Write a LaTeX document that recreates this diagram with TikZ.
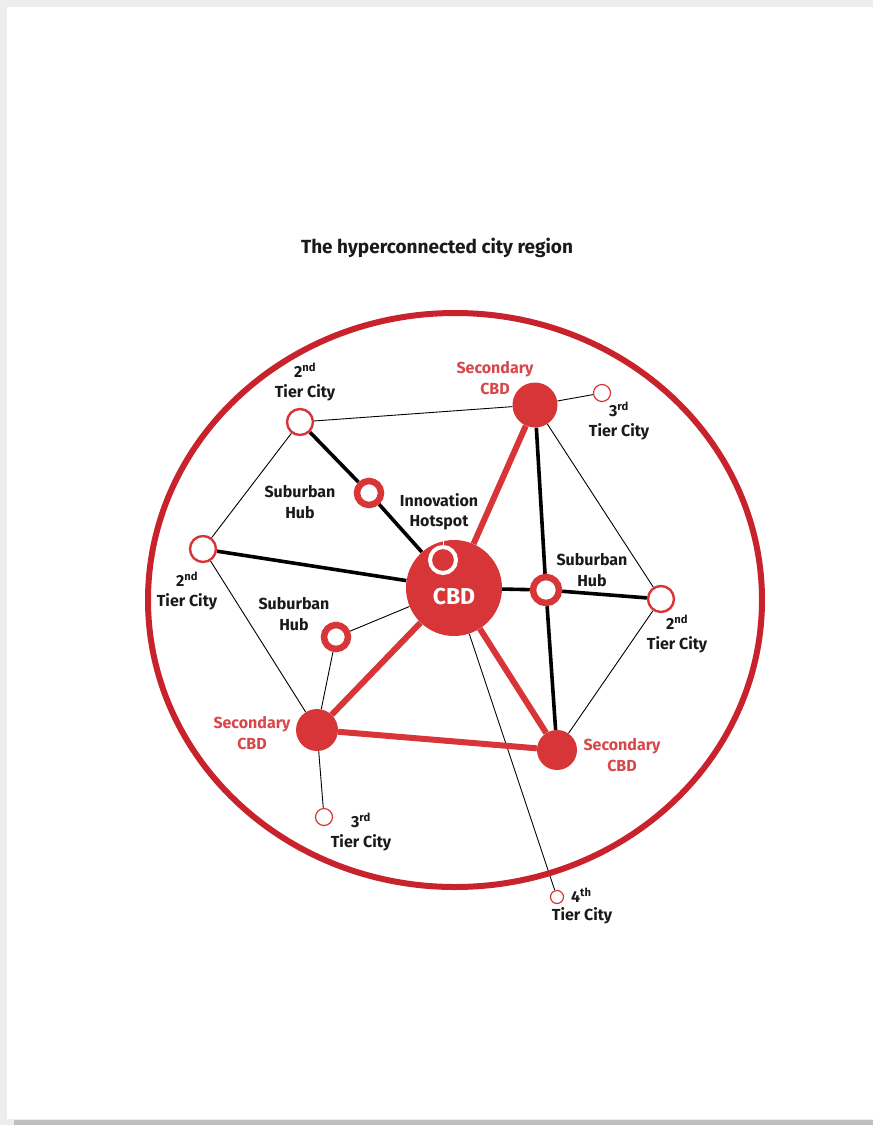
\documentclass[tikz,border=0pt]{standalone}
\usepackage{fontspec}
\setmainfont{Fira Sans}
\definecolor{cred}{HTML}{D83538}
\definecolor{ringred}{HTML}{C8232C}
\definecolor{lblred}{HTML}{D9474A}
\definecolor{txt}{HTML}{1A1A1A}
\pgfdeclarelayer{back}
\pgfdeclarelayer{edges}
\pgfsetlayers{back,edges,main}
\begin{document}
\begin{tikzpicture}[x=1pt,y=-1pt,
  every node/.style={font=\bfseries\fontsize{16}{20.5}\selectfont, text=txt, align=center, inner sep=0pt},
  tier/.style={circle,draw=cred,line width=2.4pt,fill=white,minimum size=26pt,inner sep=0pt},
  minor/.style={circle,draw=cred,line width=1.2pt,fill=white,minimum size=17pt,inner sep=0pt},
  hub/.style={circle,draw=cred,line width=6.5pt,fill=white,minimum size=24pt,inner sep=0pt},
  sec/.style={circle,fill=cred,minimum size=42pt,inner sep=0pt},
  thinl/.style={draw=black,line width=0.9pt},
  thickl/.style={draw=black,line width=3.6pt},
  redl/.style={draw=cred,line width=6pt},
  rlbl/.style={text=lblred}]
\begin{pgfonlayer}{back}
\fill[black!7] (0,0) rectangle (873,1125);
\fill[white] (7,7) rectangle (873,1119);
\fill[black!25] (14,1120) rectangle (873,1125);
\end{pgfonlayer}
\useasboundingbox (0,0) rectangle (873,1125);

\node[font=\bfseries\fontsize{19}{23}\selectfont] (title) at (437,248) {The hyperconnected city region};

\draw[ringred,line width=6pt] (455,600) ellipse [x radius=307pt, y radius=287pt];

% main nodes
\node[sec,minimum size=96pt] (cbd) at (454,588) {};
\node[font=\bfseries\fontsize{23}{25}\selectfont,text=white] (cbdl) at (454,597) {CBD};
\node[circle,draw=white,line width=4pt,fill=cred,minimum size=26pt,inner sep=0pt] (innov) at (443,560) {};
\node (innovl) at (439,512) {Innovation\\Hotspot};

\node[sec,minimum size=45pt] (sT) at (535,405) {};
\node[sec] (sL) at (317,730) {};
\node[sec,minimum size=40pt] (sR) at (557,750) {};

\node[tier] (t2a) at (300,422) {};
\node[tier] (t2b) at (203,549) {};
\node[tier] (t2c) at (661,599) {};

\node[minor] (t3a) at (602,393) {};
\node[minor] (t3b) at (324,817) {};
\node[minor,minimum size=13pt] (t4) at (557,897) {};

\node[hub] (hA) at (369,493) {};
\node[hub] (hB) at (336,637) {};
\node[hub,minimum size=26pt] (hC) at (546,590) {};

% labels
\node (t2al) at (305,382) {2\textsuperscript{nd}\\Tier City};
\node (t2bl) at (187,591) {2\textsuperscript{nd}\\Tier City};
\node (t2cl) at (677,634) {2\textsuperscript{nd}\\Tier City};
\node (t3al) at (619,421) {3\textsuperscript{rd}\\Tier City};
\node (t3bl) at (361,832) {3\textsuperscript{rd}\\Tier City};
\node[anchor=west] (t4a) at (571,895) {4\textsuperscript{th}};
\node (t4l) at (582,916) {Tier City};
\node (hAl) at (300,502) {Suburban\\Hub};
\node (hBl) at (294,614) {Suburban\\Hub};
\node (hCl) at (592,570) {Suburban\\Hub};
\node[rlbl] (sTl) at (495,378) {Secondary\\CBD};
\node[rlbl] (sLl) at (252,733) {Secondary\\CBD};
\node[rlbl] (sRl) at (622,755) {Secondary\\CBD};

\coordinate (innovtop) at (443,538);
\draw[white,line width=1pt] (innov.north) -- (innovtop);

\begin{pgfonlayer}{edges}
% thin black
\draw[thinl] (t2a) -- (sT);
\draw[thinl] (sT) -- (t3a);
\draw[thinl] (t2a) -- (t2b);
\draw[thinl] (t2b) -- (sL);
\draw[thinl] (sT) -- (t2c);
\draw[thinl] (t2c) -- (sR);
\draw[thinl] (cbd) -- (hB);
\draw[thinl] (hB) -- (sL);
\draw[thinl] (sL) -- (t3b);
\draw[thinl] (cbd) -- (t4);
% thick black
\draw[thickl] (t2a) -- (hA);
\draw[thickl] (hA) -- (cbd);
\draw[thickl] (t2b) -- (cbd);
\draw[thickl] (cbd) -- (hC);
\draw[thickl] (hC) -- (t2c);
\draw[thickl] (sT) -- (hC);
\draw[thickl] (hC) -- (sR);
% red
\draw[redl] (cbd) -- (sT);
\draw[redl] (cbd) -- (sL);
\draw[redl] (cbd) -- (sR);
\draw[redl] (sL) -- (sR);
\end{pgfonlayer}
\end{tikzpicture}
\end{document}
